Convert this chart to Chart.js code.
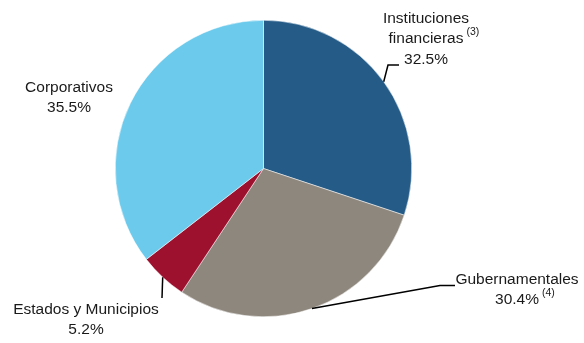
<!DOCTYPE html>
<html>
<head>
<meta charset="utf-8">
<script src="https://cdn.jsdelivr.net/npm/chart.js@4.4.0/dist/chart.umd.min.js"></script>
<style>
  html, body { margin: 0; padding: 0; background: #fff; }
  #wrap { width: 584px; height: 343px; }
</style>
</head>
<body>
<div id="wrap"><canvas id="grafica" width="584" height="343"></canvas></div>
<script>
// categorias y valores (tamaño dibujado de cada rebanada, en %)
let categorias = ['Instituciones financieras', 'Gubernamentales', 'Estados y Municipios', 'Corporativos']
let valores = [30.1, 29.2, 5.2, 35.5]
// textos de las etiquetas tal como aparecen
let lineasEtiqueta = [['Instituciones', 'financieras'], ['Gubernamentales'], ['Estados y Municipios'], ['Corporativos']]
let porcentajes = ['32.5%', '30.4%', '5.2%', '35.5%']
let notas = ['(3)', '(4)', '', '']
let colores = ['#245b87', '#8e877e', '#9d102e', '#6ccaec']

// posicion de cada etiqueta y quiebre de la linea guia
let posEtiquetas = [
    { x: 426, y: 19, notaEn: 1, codo: [[388, 65], [399, 65]] },
    { x: 517, y: 280, notaEn: 1, codo: [[440, 285.5], [455, 285.5]] },
    { x: 86, y: 310, notaEn: -1, codo: [[162, 298]] },
    { x: 69, y: 88, notaEn: -1, codo: null }
]

const fuente = '15.5px "Liberation Sans", Arial, sans-serif'
const fuenteNota = '10.5px "Liberation Sans", Arial, sans-serif'
const interlineado = 19.5

const etiquetasPlugin = {
    id: 'etiquetas',
    afterDraw(chart) {
        const ctx = chart.ctx
        const arcos = chart.getDatasetMeta(0).data
        ctx.save()
        ctx.fillStyle = '#1a1a1a'
        ctx.textBaseline = 'middle'
        arcos.forEach(function (arco, i) {
            const p = posEtiquetas[i]
            // linea guia desde el borde de la rebanada, a media rebanada
            if (p.codo) {
                const a = (arco.startAngle + arco.endAngle) / 2
                const x0 = arco.x + Math.cos(a) * arco.outerRadius
                const y0 = arco.y + Math.sin(a) * arco.outerRadius
                ctx.strokeStyle = '#000'
                ctx.lineWidth = 1.5
                ctx.beginPath()
                ctx.moveTo(x0, y0)
                p.codo.forEach(function (c) { ctx.lineTo(c[0], c[1]) })
                ctx.stroke()
            }
            const lineas = lineasEtiqueta[i].concat([porcentajes[i]])
            lineas.forEach(function (txt, k) {
                const y = p.y + k * interlineado + (k == lineas.length - 1 && lineas.length > 2 ? 2 : 0)
                ctx.font = fuente
                ctx.textAlign = 'left'
                const ancho = ctx.measureText(txt).width
                const x = p.x - ancho / 2
                ctx.fillText(txt, x, y)
                if (notas[i] && k == p.notaEn) {
                    ctx.font = fuenteNota
                    ctx.fillText(notas[i], x + ancho + 3, y - 6)
                }
            })
        })
        ctx.restore()
    }
}

const data = {
    labels: categorias,
    datasets: [{
        data: valores,
        backgroundColor: colores,
        borderColor: '#ffffff',
        borderWidth: 0.5
    }]
}

const config = {
    type: 'pie',
    data: data,
    options: {
        responsive: false,
        animation: false,
        layout: { padding: { left: 100, right: 157, top: 20, bottom: 26 } },
        plugins: {
            legend: { display: false },
            tooltip: { enabled: false },
            title: { display: false }
        }
    },
    plugins: [etiquetasPlugin]
}

let myChart = new Chart(document.getElementById('grafica'), config)
</script>
</body>
</html>
